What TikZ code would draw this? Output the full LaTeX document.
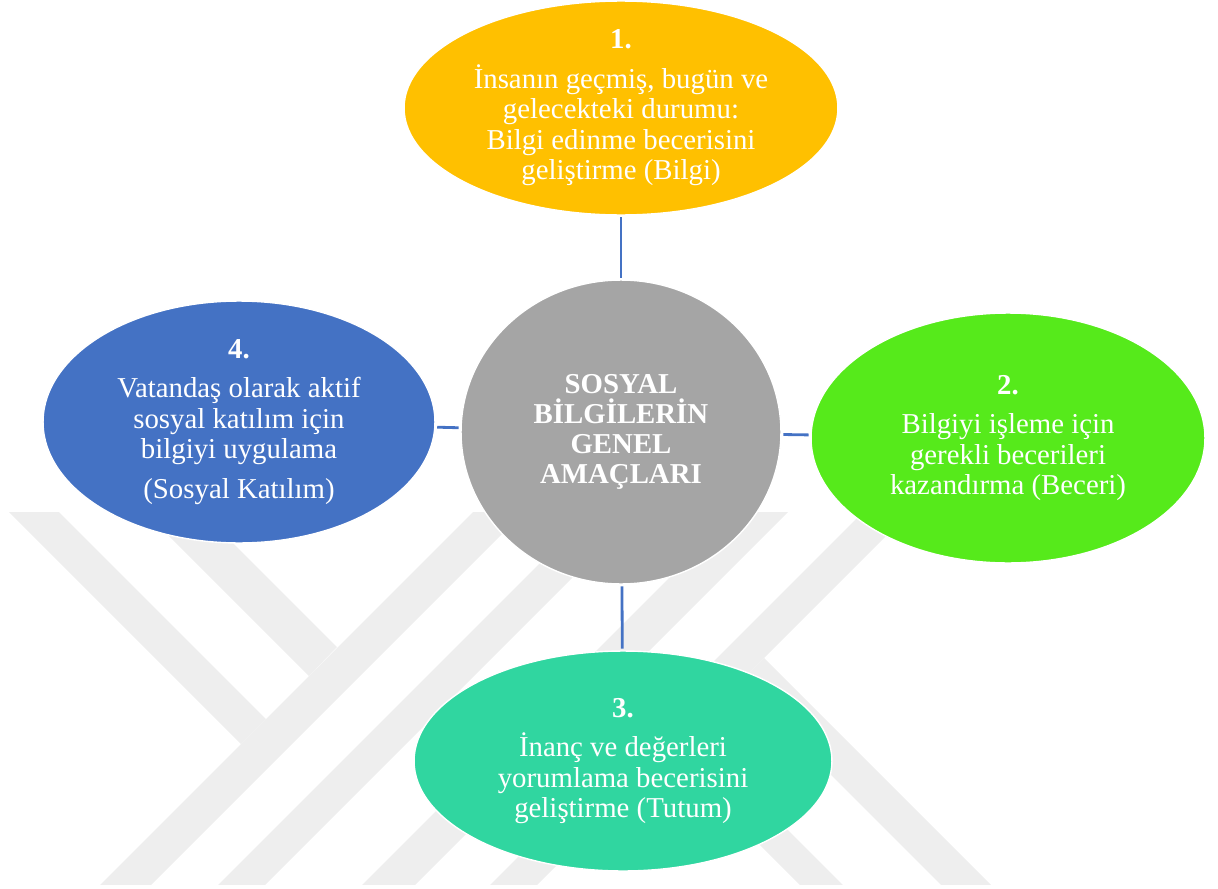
\documentclass[tikz,border=0pt]{standalone}
\usepackage{fontspec}
\setmainfont{Liberation Serif}
\usepackage{tikz}
\usetikzlibrary{shapes,arrows,backgrounds,positioning}

\definecolor{goalyellow}{RGB}{255,192,0}
\definecolor{goalgreen}{RGB}{86,234,27}
\definecolor{goalteal}{RGB}{48,214,160}
\definecolor{goalblue}{RGB}{68,114,196}
\definecolor{goalgray}{RGB}{165,165,165}
\definecolor{wmgray}{RGB}{238,238,238}

\begin{document}
\begin{tikzpicture}[x=0.02cm, y=-0.02cm]
			\tikzstyle{Goal} = [ellipse, draw=white, line width=0.8pt, text=white, align=center, inner sep=-6mm, font=\fontsize{16.4}{17.4}\selectfont]
			\tikzstyle{Core} = [Goal, fill=goalgray, font=\fontsize{16.4}{17.2}\selectfont\bfseries]
			\tikzstyle{Link} = [line width=1.6pt, goalblue, shorten >=1pt, shorten <=1pt]
			\tikzstyle{Mark} = [wmgray]
			
			\useasboundingbox (0,0) rectangle (1218,889);
			
			\begin{scope}
			\clip (0,512) rectangle (1218,884);
			\foreach \a/\b in {985/1036, 1103/1150, 1247/1300, 1375/1422}
				\fill[Mark] ({\a-885},885) -- ({\b-885},885) -- ({\b-512},512) -- ({\a-512},512) -- cycle;
			\fill[Mark] (9,512) -- (59,512) -- (266,719) -- (241,744) -- cycle;
			\fill[Mark] (145,512) -- (202,512) -- (337,647) -- (309,676) -- cycle;
			\fill[Mark] (607,692) -- (629,671) -- (843,885) -- (800,885) -- cycle;
			\fill[Mark] (739,683) -- (764,658) -- (991,885) -- (941,885) -- cycle;
			\end{scope}
			
			\node (bilgi) at (621,108) [Goal, fill=goalyellow, minimum width=8.68cm, minimum height=4.28cm] {\textbf{1.}\\[5pt] İnsanın geçmiş, bugün ve\\ gelecekteki durumu:\\ Bilgi edinme becerisini\\ geliştirme (Bilgi)};
			\node (amac) at (621,432) [Core, minimum width=6.4cm, minimum height=6.08cm] {SOSYAL\\ BİLGİLERİN\\ GENEL\\ AMAÇLARI};
			\node (beceri) at (1008,438) [Goal, fill=goalgreen, minimum width=7.88cm, minimum height=5cm] {\textbf{2.}\\[5pt] Bilgiyi işleme için\\ gerekli becerileri\\ kazandırma (Beceri)};
			\node (tutum) at (623,761) [Goal, fill=goalteal, minimum width=8.36cm, minimum height=4.4cm] {\textbf{3.}\\[5pt] İnanç ve değerleri\\ yorumlama becerisini\\ geliştirme (Tutum)};
			\node (katilim) at (239,422) [Goal, fill=goalblue, minimum width=7.84cm, minimum height=4.84cm] {\textbf{4.}\\[5pt] Vatandaş olarak aktif\\ sosyal katılım için\\ bilgiyi uygulama\\[5pt] (Sosyal Katılım)};
			
			\draw [-] (bilgi) to (amac) [Link];
			\draw [-] (amac) to (beceri) [Link];
			\draw [-] (amac) to (tutum) [Link];
			\draw [-] (katilim) to (amac) [Link];
		\end{tikzpicture}
\end{document}
